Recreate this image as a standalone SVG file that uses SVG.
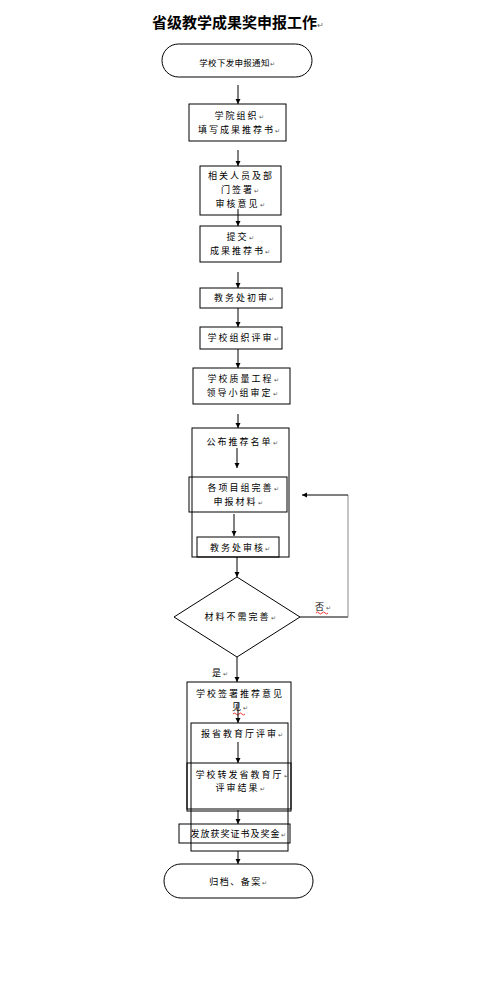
<svg xmlns="http://www.w3.org/2000/svg" width="500" height="1000" viewBox="0 0 500 1000">
<style>
.box{fill:none;stroke:#000;stroke-width:1}
.t{font-family:"Noto Sans CJK SC","Liberation Sans",sans-serif;font-size:9px;letter-spacing:2px;fill:#000;text-anchor:middle}
.m{font-size:6px;letter-spacing:0;fill:#555}
.c{fill:none;stroke:#000;stroke-width:1}
.title{font-family:"Noto Sans CJK SC","Liberation Sans",sans-serif;font-size:15px;font-weight:bold;fill:#000}
.red{fill:none;stroke:#e00;stroke-width:0.8}
</style>
<defs>
<marker id="ah" markerWidth="6" markerHeight="6" refX="5" refY="3" orient="auto" markerUnits="userSpaceOnUse">
<path d="M0,0.5 L5,3 L0,5.5 Z" fill="#000"/>
</marker>
</defs>
<rect width="500" height="1000" fill="#fff"/>
<g id="title"><text class="title" x="152" y="28">省级教学成果奖申报工作<tspan font-size="8" font-weight="normal" fill="#666">↵</tspan></text></g>

<g id="start"><rect class="box" x="162" y="44" width="150" height="33" rx="16.5"/><text class="t" x="237" y="66" style="letter-spacing:0.3px;font-size:8.5px">学校下发申报通知<tspan class="m">↵</tspan></text></g>
<g id="n1"><rect class="box" x="189" y="104" width="97" height="37"/><text class="t" x="239" y="119">学院组织<tspan class="m">↵</tspan></text><text class="t" x="239" y="133">填写成果推荐书<tspan class="m">↵</tspan></text></g>
<g id="n2"><rect class="box" x="200" y="166" width="81" height="49"/><text class="t" x="241" y="179">相关人员及部</text><text class="t" x="240" y="193">门签署<tspan class="m">↵</tspan></text><text class="t" x="240" y="207">审核意见<tspan class="m">↵</tspan></text></g>
<g id="n3"><rect class="box" x="200" y="226" width="81" height="36"/><text class="t" x="240" y="240">提交<tspan class="m">↵</tspan></text><text class="t" x="240" y="254">成果推荐书<tspan class="m">↵</tspan></text></g>
<g id="n4"><rect class="box" x="200" y="288" width="82" height="20"/><text class="t" x="244" y="301">教务处初审<tspan class="m">↵</tspan></text></g>
<g id="n5"><rect class="box" x="200" y="327" width="82" height="22"/><text class="t" x="243" y="341">学校组织评审<tspan class="m">↵</tspan></text></g>
<g id="n6"><rect class="box" x="193" y="368" width="97" height="36"/><text class="t" x="243" y="382">学校质量工程<tspan class="m">↵</tspan></text><text class="t" x="242" y="396">领导小组审定<tspan class="m">↵</tspan></text></g>
<g id="frame1"><rect class="box" x="192" y="428" width="97" height="129"/><text class="t" x="242" y="445">公布推荐名单<tspan class="m">↵</tspan></text></g>
<g id="n7"><rect class="box" x="189" y="477" width="98" height="35"/><text class="t" x="243" y="491">各项目组完善<tspan class="m">↵</tspan></text><text class="t" x="238" y="505">申报材料<tspan class="m">↵</tspan></text></g>
<g id="n8"><rect class="box" x="197" y="537" width="82" height="20"/><text class="t" x="240" y="551">教务处审核<tspan class="m">↵</tspan></text></g>
<g id="d1"><polygon class="box" points="237,577 300,617 237,657 174,617"/><text class="t" x="240" y="620">材料不需完善<tspan class="m">↵</tspan></text></g>
<g id="lab-no"><text class="t" x="323" y="610">否<tspan class="m">↵</tspan></text><path class="red" d="M316,613 q1.5,-2 3,0 t3,0 t3,0 t3,0"/></g>
<g id="lab-yes"><text class="t" x="220" y="676">是<tspan class="m">↵</tspan></text></g>
<g id="frame2"><rect class="box" x="187" y="682" width="104" height="129"/><text class="t" x="240" y="697">学校签署推荐意见</text><text class="t" x="240" y="710">见<tspan class="m">↵</tspan></text><path class="red" d="M233,714 q1.5,-2 3,0 t3,0 t3,0 t3,0"/></g>
<g id="n9"><rect class="box" x="191" y="723" width="97" height="128"/><text class="t" x="242" y="737">报省教育厅评审<tspan class="m">↵</tspan></text></g>
<g id="n10"><rect class="box" x="187" y="763" width="104" height="46"/><text class="t" x="242" y="778">学校转发省教育厅<tspan class="m">↵</tspan></text><text class="t" x="240" y="791">评审结果<tspan class="m">↵</tspan></text></g>
<g id="n11"><rect class="box" x="179" y="824" width="111" height="19"/><text class="t" x="238" y="837" style="letter-spacing:1px">发放获奖证书及奖金<tspan class="m">↵</tspan></text></g>
<g id="end"><rect class="box" x="164" y="864" width="149" height="34" rx="17"/><text class="t" x="238" y="885" style="letter-spacing:1.5px">归档、备案<tspan class="m">↵</tspan></text></g>

<g id="connectors">
<line class="c" x1="238" y1="85" x2="238" y2="104" marker-end="url(#ah)"/>
<line class="c" x1="238" y1="150" x2="238" y2="166" marker-end="url(#ah)"/>
<line class="c" x1="238" y1="209" x2="238" y2="226" marker-end="url(#ah)"/>
<line class="c" x1="238" y1="272" x2="238" y2="288" marker-end="url(#ah)"/>
<line class="c" x1="238" y1="308" x2="238" y2="327" marker-end="url(#ah)"/>
<line class="c" x1="238" y1="349" x2="238" y2="368" marker-end="url(#ah)"/>
<line class="c" x1="238" y1="414" x2="238" y2="428" marker-end="url(#ah)"/>
<line class="c" x1="237" y1="448" x2="237" y2="468" marker-end="url(#ah)"/>
<line class="c" x1="234" y1="514" x2="234" y2="536" marker-end="url(#ah)"/>
<line class="c" x1="237" y1="557" x2="237" y2="577" marker-end="url(#ah)"/>
<line class="c" x1="237" y1="657" x2="237" y2="682" marker-end="url(#ah)"/>
<path class="c" d="M300,617 H348" stroke="#444"/>
<path class="c" d="M348,617 V495" style="stroke:#888"/>
<line class="c" x1="348" y1="495" x2="302" y2="495" marker-end="url(#ah)"/>
<line class="c" x1="238" y1="703" x2="238" y2="723" marker-end="url(#ah)"/>
<line class="c" x1="238" y1="742" x2="238" y2="763" marker-end="url(#ah)"/>
<line class="c" x1="238" y1="810" x2="238" y2="824" marker-end="url(#ah)"/>
<line class="c" x1="238" y1="851" x2="238" y2="864" marker-end="url(#ah)"/>
</g>
</svg>
